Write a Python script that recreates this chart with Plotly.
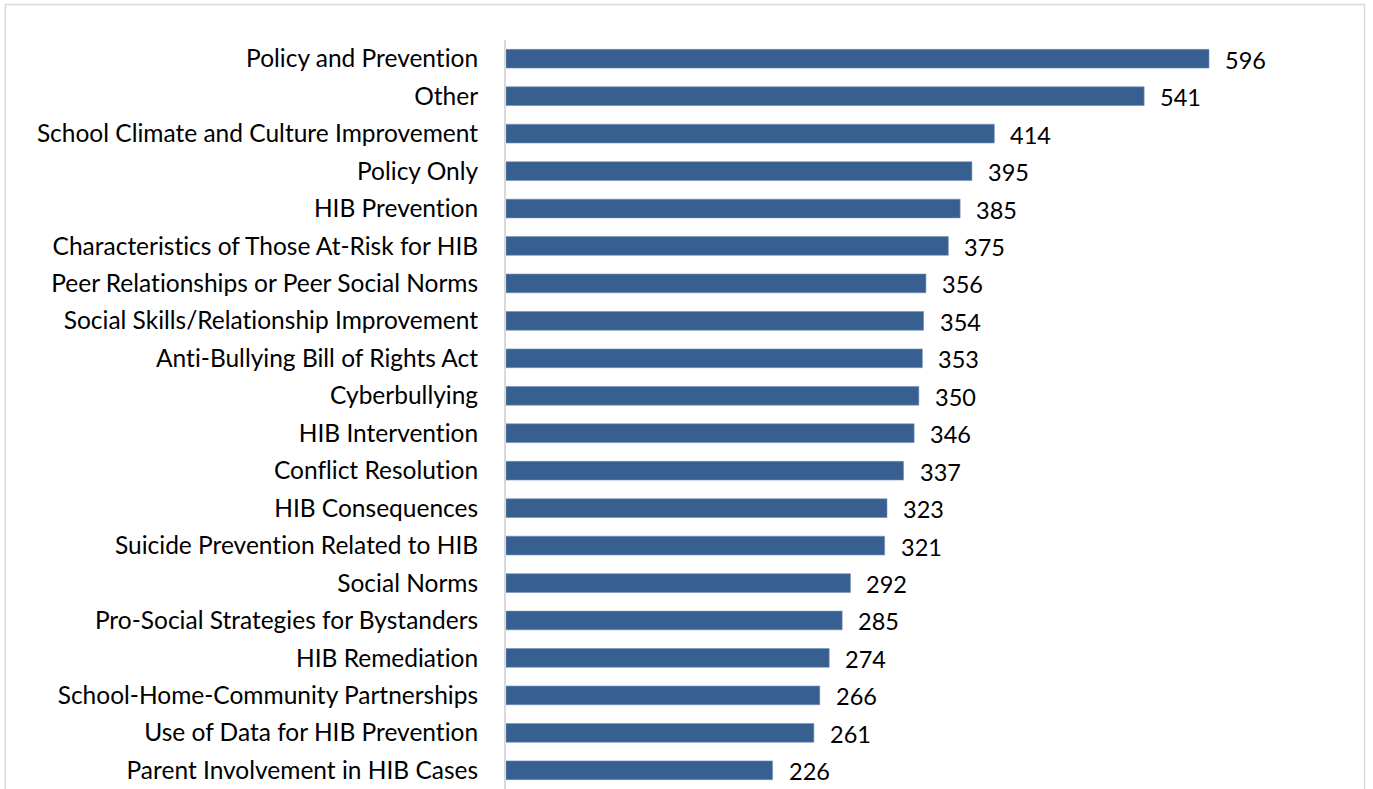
import plotly.graph_objects as go

# Topic categories, top to bottom as displayed
categories = [
    "Policy and Prevention",
    "Other",
    "School Climate and Culture Improvement",
    "Policy Only",
    "HIB Prevention",
    "Characteristics of Those At-Risk for HIB",
    "Peer Relationships or Peer Social Norms",
    "Social Skills/Relationship Improvement",
    "Anti-Bullying Bill of Rights Act",
    "Cyberbullying",
    "HIB Intervention",
    "Conflict Resolution",
    "HIB Consequences",
    "Suicide Prevention Related to HIB",
    "Social Norms",
    "Pro-Social Strategies for Bystanders",
    "HIB Remediation",
    "School-Home-Community Partnerships",
    "Use of Data for HIB Prevention",
    "Parent Involvement in HIB Cases",
]
counts = [596, 541, 414, 395, 385, 375, 356, 354, 353, 350,
          346, 337, 323, 321, 292, 285, 274, 266, 261, 226]

FONT = "Lato"
BAR_COLOR = "#376091"

fig = go.Figure()
fig.add_trace(go.Bar(
    x=counts,
    y=categories,
    orientation="h",
    width=0.5,
    marker=dict(color=BAR_COLOR, line=dict(color="#7391B8", width=0.6)),
    hoverinfo="x+y",
))

# value labels to the right of each bar
for cat, val in zip(categories, counts):
    fig.add_annotation(
        x=val, y=cat, text=str(val), showarrow=False,
        xanchor="left", yanchor="middle", xshift=14, yshift=-1,
        font=dict(family=FONT, size=23.5, color="#000000"),
    )

# chart frame
fig.add_shape(
    type="rect", xref="paper", yref="paper",
    x0=-0.5835, x1=1.0006, y0=-0.02, y1=1.0474,
    line=dict(color="#D9D9D9", width=1.5), layer="below",
)

fig.update_layout(
    width=1373, height=789,
    margin=dict(l=506, r=9, t=40, b=0),
    paper_bgcolor="white", plot_bgcolor="white",
    showlegend=False,
    font=dict(family=FONT, size=24.5, color="#000000"),
    xaxis=dict(range=[0, 727.4], visible=False, fixedrange=True),
    yaxis=dict(
        autorange="reversed",
        showline=True, linecolor="#D9D9D9", linewidth=2,
        ticks="", showgrid=False, ticklabelstandoff=21,
        tickfont=dict(family=FONT, size=24.5, color="#000000"),
        fixedrange=True,
    ),
)

# plain glyphs, no typographic ligatures in the labels
no_ligatures = (
    "var s=document.createElement('style');"
    "s.textContent='.main-svg text{font-variant-ligatures:none;"
    "font-feature-settings:\"liga\" 0, \"clig\" 0;}';"
    "document.head.appendChild(s);"
)

fig.write_html("out.html", post_script=no_ligatures)
